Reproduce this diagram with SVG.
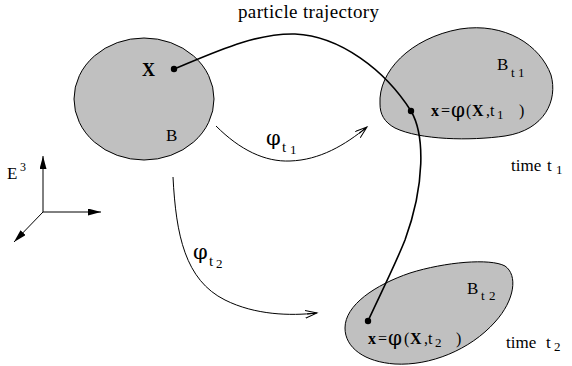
<svg xmlns="http://www.w3.org/2000/svg" width="572" height="366" viewBox="0 0 572 366">
<style>
text{font-family:"Liberation Serif","Times New Roman",serif;fill:#000}
.phi{font-family:"DejaVu Serif","Liberation Serif",serif}
.body{fill:#c0c0c0;stroke:#000;stroke-width:1}
.conn{fill:none;stroke:#000;stroke-width:1}
.traj{fill:none;stroke:#000;stroke-width:1.6}
.b{font-weight:bold}
</style>
<defs>
<marker id="open" markerUnits="userSpaceOnUse" markerWidth="14" markerHeight="10" refX="12" refY="4" orient="auto" viewBox="0 0 14 10">
<path d="M0,0 L12,4 L0,8 M2,4 L12,4" fill="none" stroke="#000" stroke-width="1"/>
</marker>
<marker id="solid" markerUnits="userSpaceOnUse" markerWidth="14" markerHeight="8" refX="13" refY="3.5" orient="auto" viewBox="0 0 14 8">
<path d="M0,0 L13,3.5 L0,7 Z" fill="#000"/>
</marker>
</defs>

<g id="B">
<ellipse class="body" cx="144" cy="99" rx="70" ry="61"/>
<text x="142" y="76" font-size="18" class="b">X</text>
<text x="166" y="141" font-size="17">B</text>
</g>

<g id="Bt1">
<path class="body" d="M380,104 C378,72 410,38 460,29 C505,22 540,45 551,75 C558,100 545,130 505,136 C470,141 420,140 395,128 C384,122 380,114 380,104 Z"/>
<text x="497" y="70" font-size="17">B</text>
<text x="511" y="77" font-size="13">t<tspan x="518">1</tspan></text>
<text y="116" font-size="16"><tspan x="431" class="b">x</tspan><tspan x="441">=</tspan></text>
<text x="451" y="117" font-size="20" class="phi">φ</text>
<text y="116" font-size="16"><tspan x="466">(</tspan><tspan x="472" class="b">X</tspan><tspan x="486">,t</tspan></text>
<text x="497" y="119" font-size="13">1</text>
<text x="519" y="116" font-size="16">)</text>
</g>

<g id="Bt2">
<path class="body" d="M345,328 C345,305 375,285 410,273 C445,262 490,258 505,266 C518,275 515,300 495,322 C470,350 430,366 395,364 C365,362 345,348 345,328 Z"/>
<text x="467" y="294" font-size="17">B</text>
<text x="481" y="300" font-size="13">t<tspan x="489">2</tspan></text>
<text y="344" font-size="16"><tspan x="368" class="b">x</tspan><tspan x="378">=</tspan></text>
<text x="388" y="345" font-size="20" class="phi">φ</text>
<text y="344" font-size="16"><tspan x="404">(</tspan><tspan x="410" class="b">X</tspan><tspan x="424">,t</tspan></text>
<text x="435" y="347" font-size="13">2</text>
<text x="456" y="344" font-size="16">)</text>
</g>

<g id="labels">
<text x="238" y="18" font-size="19" textLength="141" lengthAdjust="spacing">particle trajectory</text>
<text x="511" y="171" font-size="17">time</text>
<text x="547" y="171" font-size="17">t</text>
<text x="556" y="174" font-size="13">1</text>
<text x="506" y="348" font-size="17">time</text>
<text x="546" y="348" font-size="17">t</text>
<text x="554" y="351" font-size="13">2</text>
<text x="266" y="145" font-size="21" class="phi">φ</text>
<text x="282" y="152" font-size="15">t</text>
<text x="290" y="154" font-size="13">1</text>
<text x="193" y="259" font-size="21" class="phi">φ</text>
<text x="209" y="266" font-size="15">t</text>
<text x="216" y="268" font-size="13">2</text>
<text x="7" y="179" font-size="17">E</text>
<text x="20" y="171" font-size="12">3</text>
</g>

<g id="connectors">
<path class="traj" d="M174,69 C215,52 255,33 295,34 C340,36 385,70 411,111 C425,135 425,185 405,240 C395,265 380,295 368,321"/>
<path class="conn" d="M216,126 C240,150 265,162 290,161 C320,160 345,145 367,127" marker-end="url(#open)"/>
<path class="conn" d="M173,177 C176,235 185,280 225,300 C255,315 290,316 317,313" marker-end="url(#open)"/>
<path class="conn" d="M43,212 L43,156" marker-end="url(#solid)"/>
<path class="conn" d="M43,212 L101,212" marker-end="url(#solid)"/>
<path class="conn" d="M43,212 L14,242" marker-end="url(#solid)"/>
<circle cx="174" cy="69" r="3.2" fill="#000"/>
<circle cx="411" cy="111" r="3.2" fill="#000"/>
<circle cx="368" cy="321" r="3.2" fill="#000"/>
</g>
</svg>
